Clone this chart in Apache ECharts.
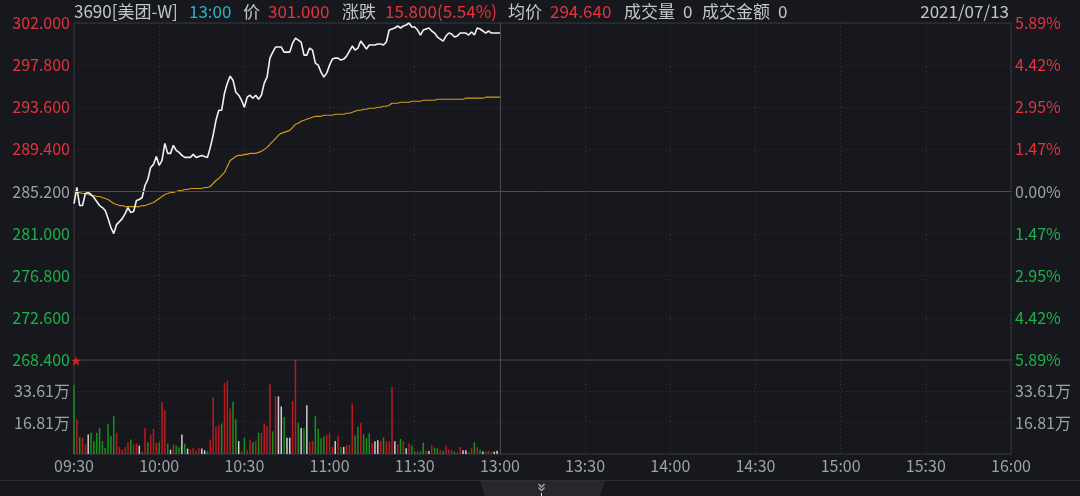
<!DOCTYPE html>
<html><head><meta charset="utf-8">
<script src="https://cdn.jsdelivr.net/npm/echarts/dist/echarts.min.js"></script>
<style>html,body{margin:0;padding:0;background:#16181d;}#c{width:1080px;height:496px;}</style>
</head><body><div id="c"></div>
<script>
// ---------- data ----------
const prevClose = 285.2;
const priceTickLabels = ['268.400','272.600','276.800','281.000','285.200','289.400','293.600','297.800','302.000'];
const pctTickLabels = ['5.89%','4.42%','2.95%','1.47%','0.00%','1.47%','2.95%','4.42%','5.89%'];
const volTickLabels = ['', '16.81万', '33.61万', ''];
const timeTickLabels = ['09:30','10:00','10:30','11:00','11:30','13:00','13:30','14:00','14:30','15:00','15:30','16:00'];
const headerParts = [
  ['3690[美团-W]','n'],['13:00','c'],['价','n'],['301.000','r'],['涨跌','n'],['15.800(5.54%)','r'],
  ['均价','n'],['294.640','r'],['成交量','n'],['0','n'],['成交金额','n'],['0','n']
];
const dateText = '2021/07/13';

const price = [284.0,285.6,283.8,283.8,285.0,285.1,284.9,284.6,284.2,283.8,
283.6,283.3,282.5,281.6,281.0,281.9,282.2,282.5,283.0,283.6,
283.1,283.2,284.3,284.4,284.6,285.8,286.4,287.6,287.9,288.7,
287.8,288.3,290.0,289.0,289.0,289.8,289.3,289.1,288.8,288.6,
288.6,288.6,288.9,288.6,288.7,288.8,288.7,288.6,289.6,290.8,
292.3,293.3,293.3,295.0,296.0,296.7,296.3,295.1,294.8,294.3,
293.6,294.6,294.8,294.5,294.8,294.4,294.8,296.0,296.6,298.5,
299.1,299.6,299.6,299.6,299.1,299.1,299.1,300.0,300.5,300.3,
300.1,298.8,298.8,299.5,299.3,298.0,297.8,297.1,296.6,297.0,
297.8,298.4,298.5,298.5,298.3,298.4,298.7,299.2,299.7,299.3,
299.5,300.2,299.8,299.4,299.8,299.8,299.8,299.9,299.9,299.8,
300.1,301.3,301.4,301.5,301.7,301.5,301.7,301.8,302.0,301.6,
301.6,301.3,300.8,301.3,301.4,301.5,301.2,301.0,300.6,300.4,
300.2,300.7,301.0,300.9,300.6,300.7,301.0,301.0,301.0,300.8,
301.1,300.8,301.5,301.4,301.2,301.0,301.2,301.0,301.0,301.0,
301.0];

const avgPrice = [285.2,285.1,285.1,285.0,285.0,284.9,284.8,284.8,284.7,284.7,
284.6,284.5,284.4,284.2,284.0,283.9,283.8,283.8,283.7,283.7,
283.7,283.7,283.7,283.7,283.8,283.8,283.9,284.0,284.1,284.3,
284.5,284.7,284.9,285.0,285.1,285.1,285.2,285.3,285.3,285.4,
285.4,285.5,285.5,285.5,285.5,285.5,285.6,285.6,285.7,286.0,
286.3,286.5,286.8,287.1,287.7,288.3,288.5,288.7,288.8,288.8,
288.9,288.9,289.0,289.0,289.0,289.1,289.2,289.4,289.6,289.9,
290.2,290.5,290.8,291.0,291.1,291.2,291.3,291.6,291.9,292.0,
292.2,292.3,292.4,292.5,292.6,292.7,292.7,292.7,292.8,292.8,
292.8,292.8,292.9,292.9,292.9,292.9,293.0,293.0,293.1,293.2,
293.3,293.3,293.4,293.4,293.5,293.5,293.5,293.6,293.6,293.7,
293.7,293.8,294.0,294.0,294.0,294.1,294.1,294.1,294.1,294.2,
294.2,294.2,294.2,294.3,294.3,294.3,294.3,294.3,294.4,294.4,
294.4,294.4,294.4,294.4,294.4,294.4,294.4,294.4,294.5,294.5,
294.5,294.5,294.5,294.5,294.5,294.6,294.6,294.6,294.6,294.6,
294.6];

// volume in 万 shares
const volume = [37.0,18.6,9.0,8.7,5.1,10.5,11.4,6.9,11.4,14.1,
6.9,3.3,15.9,9.6,20.4,11.4,3.8,2.3,3.8,6.3,
7.8,4.9,5.6,4.5,1.3,14.1,6.3,10.5,13.6,6.0,
6.3,28.0,23.5,5.6,2.3,5.1,4.5,3.6,10.5,5.6,
2.9,2.3,3.4,2.0,3.1,2.9,2.0,1.4,7.8,30.4,
14.6,15.4,16.4,38.1,39.4,24.4,28.0,18.6,6.9,1.4,
8.7,2.0,7.8,6.3,6.9,11.4,11.4,16.4,15.0,37.6,
12.1,30.9,30.9,25.5,19.9,8.7,8.7,28.4,58.0,16.8,
13.9,13.7,26.2,6.7,7.0,20.4,13.6,8.5,9.4,10.3,
11.0,3.8,7.0,9.9,3.8,3.8,4.7,4.9,27.1,9.9,
14.6,16.8,10.5,8.5,11.0,6.0,6.9,7.4,6.9,8.9,
6.9,6.7,35.8,6.9,5.1,8.1,6.9,3.1,5.6,4.5,
1.4,1.4,1.4,6.0,1.8,1.6,4.9,3.4,3.1,2.0,
1.6,4.5,2.3,2.3,1.4,0.9,3.8,2.0,2.0,0.9,
3.4,6.3,3.8,2.3,1.4,1.3,1.8,0.9,1.3,1.8,
0];
// u = up (red), d = down (green), f = flat (white)
const volDir = ['d','u','d','u','u','f','d','d','d','d',
'd','d','d','d','d','u','u','u','u','u',
'd','u','u','f','u','u','d','u','u','u',
'd','u','u','d','f','u','d','d','f','d',
'f','u','u','u','u','f','f','d','u','u',
'u','u','d','u','u','u','d','d','f','u',
'd','u','u','d','u','d','u','u','u','u',
'd','u','f','f','d','f','f','u','u','d',
'f','d','f','u','u','d','d','d','d','u',
'u','u','f','u','d','f','u','u','u','d',
'd','u','d','d','d','u','f','f','u','d',
'u','u','u','f','u','d','u','f','u','d',
'd','u','d','d','u','f','u','d','d','u',
'd','u','u','u','d','u','u','f','f','d',
'u','d','u','d','f','u','u','d','f','f',
'f'];

// minute categories: 09:30-11:59, 13:00-16:00
const categories = [];
function pad(n){return (n<10?'0':'')+n;}
for (let m = 9*60+30; m < 12*60; m++) categories.push(pad(Math.floor(m/60))+':'+pad(m%60));
for (let m = 13*60; m <= 16*60; m++) categories.push(pad(Math.floor(m/60))+':'+pad(m%60));

// ---------- style ----------
const C = {bg:'#16181d', red:'#e5323d', green:'#1cb14c', gray:'#9da1a8', txt:'#c2c5ca', cyan:'#26b6c6',
  grid:'#34363c', border:'#35373d', strong:'#4a4c52', white:'#f2f2f2', avg:'#d29a18',
  barR:'#bd1a20', barG:'#16921b', barW:'#cfcfd2'};
const FONT = '"Noto Sans CJK SC","Noto Sans",sans-serif';
const dotted = {color:C.grid, type:[1,3], width:1};
const isTick = (i, v) => timeTickLabels.indexOf(v) >= 0;
const pIdx = v => Math.round((v - 268.4) / 4.2);
const rich = {
  r:{color:C.red, fontSize:16, fontFamily:FONT},
  g:{color:C.green, fontSize:16, fontFamily:FONT},
  n:{color:C.gray, fontSize:16, fontFamily:FONT}
};
const cls = i => i > 4 ? 'r' : (i < 4 ? 'g' : 'n');

const headerX = [74,189,243,268,342,385,508,550,624,683,702,778];
const headerColor = {n:C.txt, c:C.cyan, r:C.red};
const graphics = headerParts.map((p, k) => ({
  type:'text', x:headerX[k], y:12, silent:true,
  style:{text:p[0], fill:headerColor[p[1]], font:'17px '+FONT, verticalAlign:'middle', textVerticalAlign:'middle'}
}));
graphics.push({type:'text', x:1009, y:12, silent:true,
  style:{text:dateText, fill:C.txt, font:'17px '+FONT, align:'right', textAlign:'right', verticalAlign:'middle', textVerticalAlign:'middle'}});
graphics.push({type:'line', shape:{x1:0,y1:480.5,x2:1080,y2:480.5}, style:{stroke:'#2c2e33', lineWidth:1}, silent:true});
graphics.push({type:'polygon', shape:{points:[[480,481],[605,481],[600,496],[485,496]]}, style:{fill:'#27282d'}, silent:true});
graphics.push({type:'polyline', shape:{points:[[538.5,484],[541.5,487],[544.5,484]]}, style:{stroke:'#a6a6aa', lineWidth:1.4, fill:null}, silent:true});
graphics.push({type:'polyline', shape:{points:[[538.5,487.5],[541.5,490.5],[544.5,487.5]]}, style:{stroke:'#a6a6aa', lineWidth:1.4, fill:null}, silent:true});
graphics.push({type:'line', shape:{x1:541.5,y1:493,x2:541.5,y2:496}, style:{stroke:'#e0e0e0', lineWidth:1}, silent:true});

const chart = echarts.init(document.getElementById('c'), null, {renderer:'canvas'});
chart.setOption({
  backgroundColor: C.bg,
  animation: false,
  textStyle: {fontFamily: FONT},
  graphic: graphics,
  grid: [
    {left:74, right:69, top:23, height:337, show:true, borderColor:C.border, borderWidth:1, backgroundColor:'transparent'},
    {left:74, right:69, top:360, height:94, show:true, borderColor:C.border, borderWidth:1, backgroundColor:'transparent'}
  ],
  xAxis: [
    {type:'category', gridIndex:0, data:categories, boundaryGap:false,
     axisLine:{show:false}, axisTick:{show:false}, axisLabel:{show:false},
     splitLine:{show:true, interval:isTick, lineStyle:dotted}},
    {type:'category', gridIndex:1, data:categories, boundaryGap:false,
     axisLine:{show:false}, axisTick:{show:false},
     axisLabel:{show:true, interval:isTick, color:C.gray, fontSize:16, fontFamily:FONT, margin:4, showMinLabel:true, showMaxLabel:true},
     splitLine:{show:true, interval:isTick, lineStyle:dotted}}
  ],
  yAxis: [
    {type:'value', gridIndex:0, min:268.4, max:302, interval:4.2, position:'left',
     axisLine:{show:false}, axisTick:{show:false},
     splitLine:{show:true, lineStyle:dotted},
     axisLabel:{margin:4, formatter:v => { const i = pIdx(v); return '{'+cls(i)+'|'+priceTickLabels[i]+'}'; }, rich:rich}},
    {type:'value', gridIndex:0, min:268.4, max:302, interval:4.2, position:'right',
     axisLine:{show:false}, axisTick:{show:false}, splitLine:{show:false},
     axisLabel:{margin:4, formatter:v => { const i = pIdx(v); return '{'+cls(i)+'|'+pctTickLabels[8-i]+'}'; }, rich:rich}},
    {type:'value', gridIndex:1, min:0, max:50.415, interval:16.805, position:'left',
     axisLine:{show:false}, axisTick:{show:false},
     splitLine:{show:true, lineStyle:dotted},
     axisLabel:{margin:4, color:C.gray, fontSize:16, fontFamily:FONT, formatter:v => volTickLabels[Math.round(v/16.805)] || ''}},
    {type:'value', gridIndex:1, min:0, max:50.415, interval:16.805, position:'right',
     axisLine:{show:false}, axisTick:{show:false}, splitLine:{show:false},
     axisLabel:{margin:4, color:C.gray, fontSize:16, fontFamily:FONT, formatter:v => volTickLabels[Math.round(v/16.805)] || ''}}
  ],
  series: [
    {type:'line', name:'均价', xAxisIndex:0, yAxisIndex:0, data:avgPrice, symbol:'none', silent:true,
     lineStyle:{color:C.avg, width:1.2}, z:3},
    {type:'line', name:'价', xAxisIndex:0, yAxisIndex:0, data:price, symbol:'none', silent:true,
     lineStyle:{color:C.white, width:1.6}, z:4,
     markLine:{silent:true, symbol:'none', label:{show:false},
       data:[{yAxis:prevClose, lineStyle:{color:C.strong, type:'solid', width:1}},
             {xAxis:'13:00', lineStyle:{color:C.strong, type:'solid', width:1}}]}},
    {type:'scatter', xAxisIndex:0, yAxisIndex:0, data:[['09:30', 268.4]], symbolSize:0, clip:false, silent:true,
     label:{show:true, position:'inside', formatter:'★', color:'#ff2222', fontSize:11, offset:[2,1]}, z:5},
    {type:'bar', name:'成交量', xAxisIndex:1, yAxisIndex:2, barWidth:1.5, silent:true,
     data: volume.map((v, i) => ({value:v, itemStyle:{color: volDir[i]==='u' ? C.barR : (volDir[i]==='d' ? C.barG : C.barW)}})),
     markLine:{silent:true, symbol:'none', label:{show:false},
       data:[{xAxis:'13:00', lineStyle:{color:C.strong, type:'solid', width:1}}]}}
  ]
});
</script></body></html>
